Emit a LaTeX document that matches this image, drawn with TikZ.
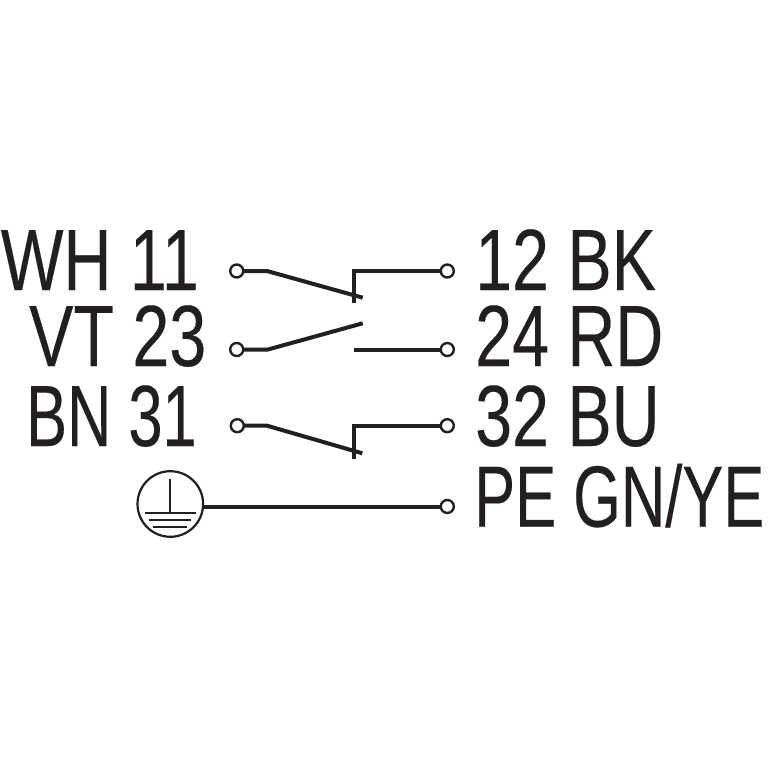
\documentclass[tikz,border=0pt]{standalone}
\usepackage{fontspec}
\setmainfont[FakeStretch=0.763,FakeBold=0.2]{Liberation Sans}
\newfontfamily\narrowfont[FakeStretch=0.706,FakeBold=0.2]{Liberation Sans}
\definecolor{ink}{HTML}{231F20}
\tikzset{
  term/.style={circle,draw=ink,fill=white,line width=2.4pt,minimum size=13pt,inner sep=0pt},
  wire/.style={draw=ink,line width=4pt,line join=miter},
  lbl/.style={inner sep=0pt,text=ink,font=\fontsize{87pt}{87pt}\selectfont},
  lblnarrow/.style={lbl,font=\fontsize{87pt}{87pt}\selectfont\narrowfont},
  thinline/.style={draw=ink,line width=2pt}
}
\begin{document}
\begin{tikzpicture}[x=1pt,y=-1pt]
\useasboundingbox (0,0) rectangle (767,767);
\fill[white] (0,0) rectangle (767,767);
% labels
\node[lbl,anchor=base east] (l1) at (199,290) {WH 11};
\node[lbl,anchor=base east] (l2) at (206.5,366) {VT 23};
\node[lblnarrow,anchor=base east] (l3) at (197,446) {BN 31};
\node[lbl,anchor=base west] (r1) at (475,290) {12 BK};
\node[lbl,anchor=base west] (r2) at (475,366) {24 RD};
\node[lbl,anchor=base west] (r3) at (475,446) {32 BU};
\node[lblnarrow,anchor=base west] (r4) at (474,526.7) {PE GN/YE};
% junction coordinates
\coordinate (a1) at (267,271);
\coordinate (b1) at (362.7,297.7);
\coordinate (c1) at (354,271);
\coordinate (d1) at (354,303);
\coordinate (a2) at (268,349.5);
\coordinate (b2) at (362.7,323.3);
\coordinate (c2) at (354,349.5);
\coordinate (a3) at (267,425.7);
\coordinate (b3) at (362.3,453.3);
\coordinate (c3) at (354,425.7);
\coordinate (d3) at (354,458.7);
% wires
\draw[wire] (236.7,271) -- (a1) -- (b1);
\draw[wire] (d1) -- (c1) -- (447.3,271);
\draw[wire] (236.7,349.5) -- (a2) -- (b2);
\draw[wire] (c2) -- (447.3,349.5);
\draw[wire] (237.3,425.7) -- (a3) -- (b3);
\draw[wire] (d3) -- (c3) -- (447.3,425.7);
\draw[wire] (170,506.5) -- (447.3,506.5);
\node[term] (t1) at (236.7,271) {};
\node[term] (u1) at (447.3,271) {};
\node[term] (t2) at (236.7,349.5) {};
\node[term] (u2) at (447.3,349.5) {};
\node[term] (t3) at (237.3,425.7) {};
\node[term] (u3) at (447.3,425.7) {};
\node[term] (u4) at (447.3,506.5) {};
\node[circle,draw=ink,fill=white,line width=2.2pt,minimum size=65.6pt,inner sep=0pt] (pe) at (170.3,504) {};
% earth symbol
\draw[thinline] (170,479) -- (170,513);
\draw[thinline] (145,513) -- (195.7,513);
\draw[thinline] (149,519.7) -- (191,519.7);
\draw[thinline] (153,527.3) -- (187,527.3);
\end{tikzpicture}
\end{document}
